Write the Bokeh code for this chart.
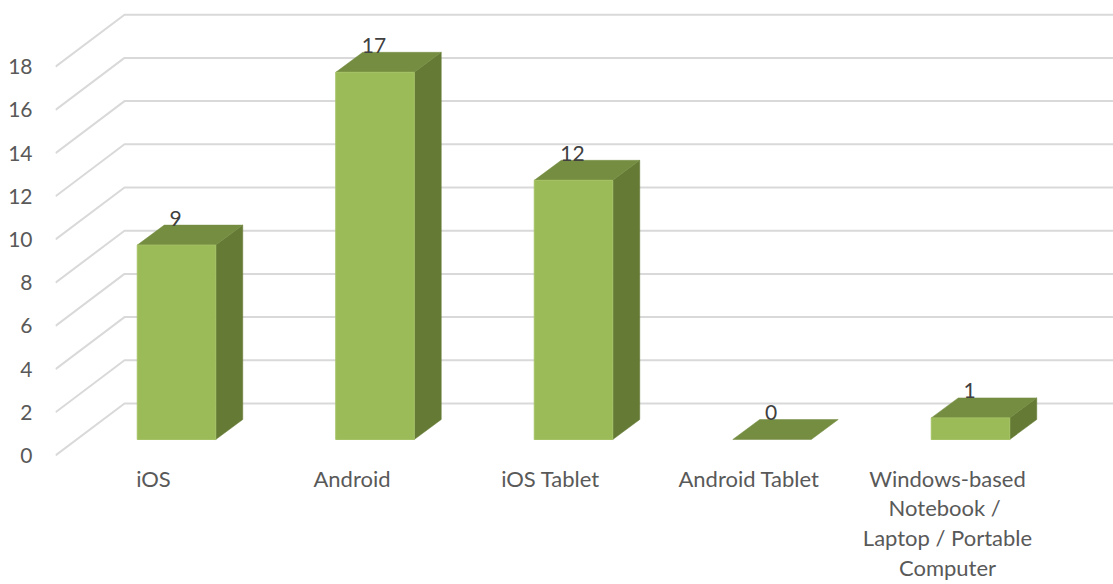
from bokeh.plotting import figure
from bokeh.models import Range1d, LinearAxis, FixedTicker, ColumnDataSource
from bokeh.core.properties import value
from bokeh.embed import file_html
from bokeh.resources import INLINE

categories = ["iOS", "Android", "iOS Tablet", "Android Tablet",
              "Windows-based\nNotebook  /\nLaptop / Portable\nComputer"]
counts = [9, 17, 12, 0, 1]
y_ticks = [0, 2, 4, 6, 8, 10, 12, 14, 16, 18]

W, H = 1113, 584
FL, FB = 55, 456          # frame left / bottom in figure pixels
XU, YU = 198.5, 21.6      # pixels per category / per unit
X0, Y0 = 153, 455         # figure pixel of category 0 / value 0 on the front plane

x_start, x_end = (FL - X0) / XU, (W - X0) / XU
y_start, y_end = (Y0 - FB) / YU, Y0 / YU

p = figure(width=W, height=H, output_backend="svg", toolbar_location=None,
           x_range=Range1d(x_start, x_end), y_range=Range1d(y_start, y_end),
           x_axis_location=None, y_axis_location=None,
           min_border_left=FL, min_border_right=0, min_border_top=0,
           min_border_bottom=H - FB, outline_line_color=None,
           background_fill_color="white", border_fill_color="white",
           margin=(0, 0, 0, 0))
p.grid.visible = False

# axes
FONT = "Lato"
yax = LinearAxis(ticker=FixedTicker(ticks=y_ticks))
xax = LinearAxis(ticker=FixedTicker(ticks=list(range(len(categories)))))
xax.major_label_overrides = {i: c for i, c in enumerate(categories)}
for ax in (yax, xax):
    ax.axis_line_color = None
    ax.major_tick_line_color = None
    ax.minor_tick_line_color = None
    ax.major_label_text_font = FONT
    ax.major_label_text_color = "#595959"
yax.major_label_text_font_size = "21px"
xax.major_label_text_font_size = "22px"
yax.major_label_standoff = 17
xax.major_label_standoff = 2
xax.major_label_orientation = "horizontal"
xax.major_label_text_line_height = 1.1
p.add_layout(yax, "left")
p.add_layout(xax, "below")

# walls
WALL_DX, WALL_DY = 69 / XU, 52 / YU
grid_xs = [[x_start, x_start + WALL_DX, x_end] for _ in y_ticks]
grid_ys = [[v, v + WALL_DY, v + WALL_DY] for v in y_ticks]
p.multi_line(grid_xs, grid_ys, line_color="#D9D9D9", line_width=2)

# bars
FDX, FDY = 23 / XU, 16 / YU
BDX, BDY = 50 / XU, 36 / YU
HW = 39.25 / XU
ddx, ddy = BDX - FDX, BDY - FDY

front_x, front_y, side_x, side_y, top_x, top_y = [], [], [], [], [], []
for i, v in enumerate(counts):
    l, r = i + FDX - HW, i + FDX + HW
    base = FDY
    top = base + v
    if v > 0:
        front_x.append([l, r, r, l]); front_y.append([base, base, top, top])
        side_x.append([r, r + ddx, r + ddx, r])
        side_y.append([base, base + ddy, top + ddy, top])
    top_x.append([l, r, r + ddx, l + ddx])
    top_y.append([top, top, top + ddy, top + ddy])

p.patches(side_x, side_y, fill_color="#647A35", line_color="#647A35", line_width=0.5)
p.patches(top_x, top_y, fill_color="#748D41", line_color="#748D41", line_width=0.5)
p.patches(front_x, front_y, fill_color="#9BBB59", line_color="#A5C265", line_width=1)

# value labels
src = ColumnDataSource(dict(
    x=[i + FDX - 1 / XU for i in range(len(counts))],
    y=[FDY + v for v in counts],
    t=[str(v) for v in counts]))
p.text("x", "y", text="t", source=src, y_offset=-27, text_align="center",
       text_baseline="middle", text_font=value(FONT), text_font_size="21px",
       text_color="#404040")

open("out.html", "w").write(file_html(p, INLINE))
